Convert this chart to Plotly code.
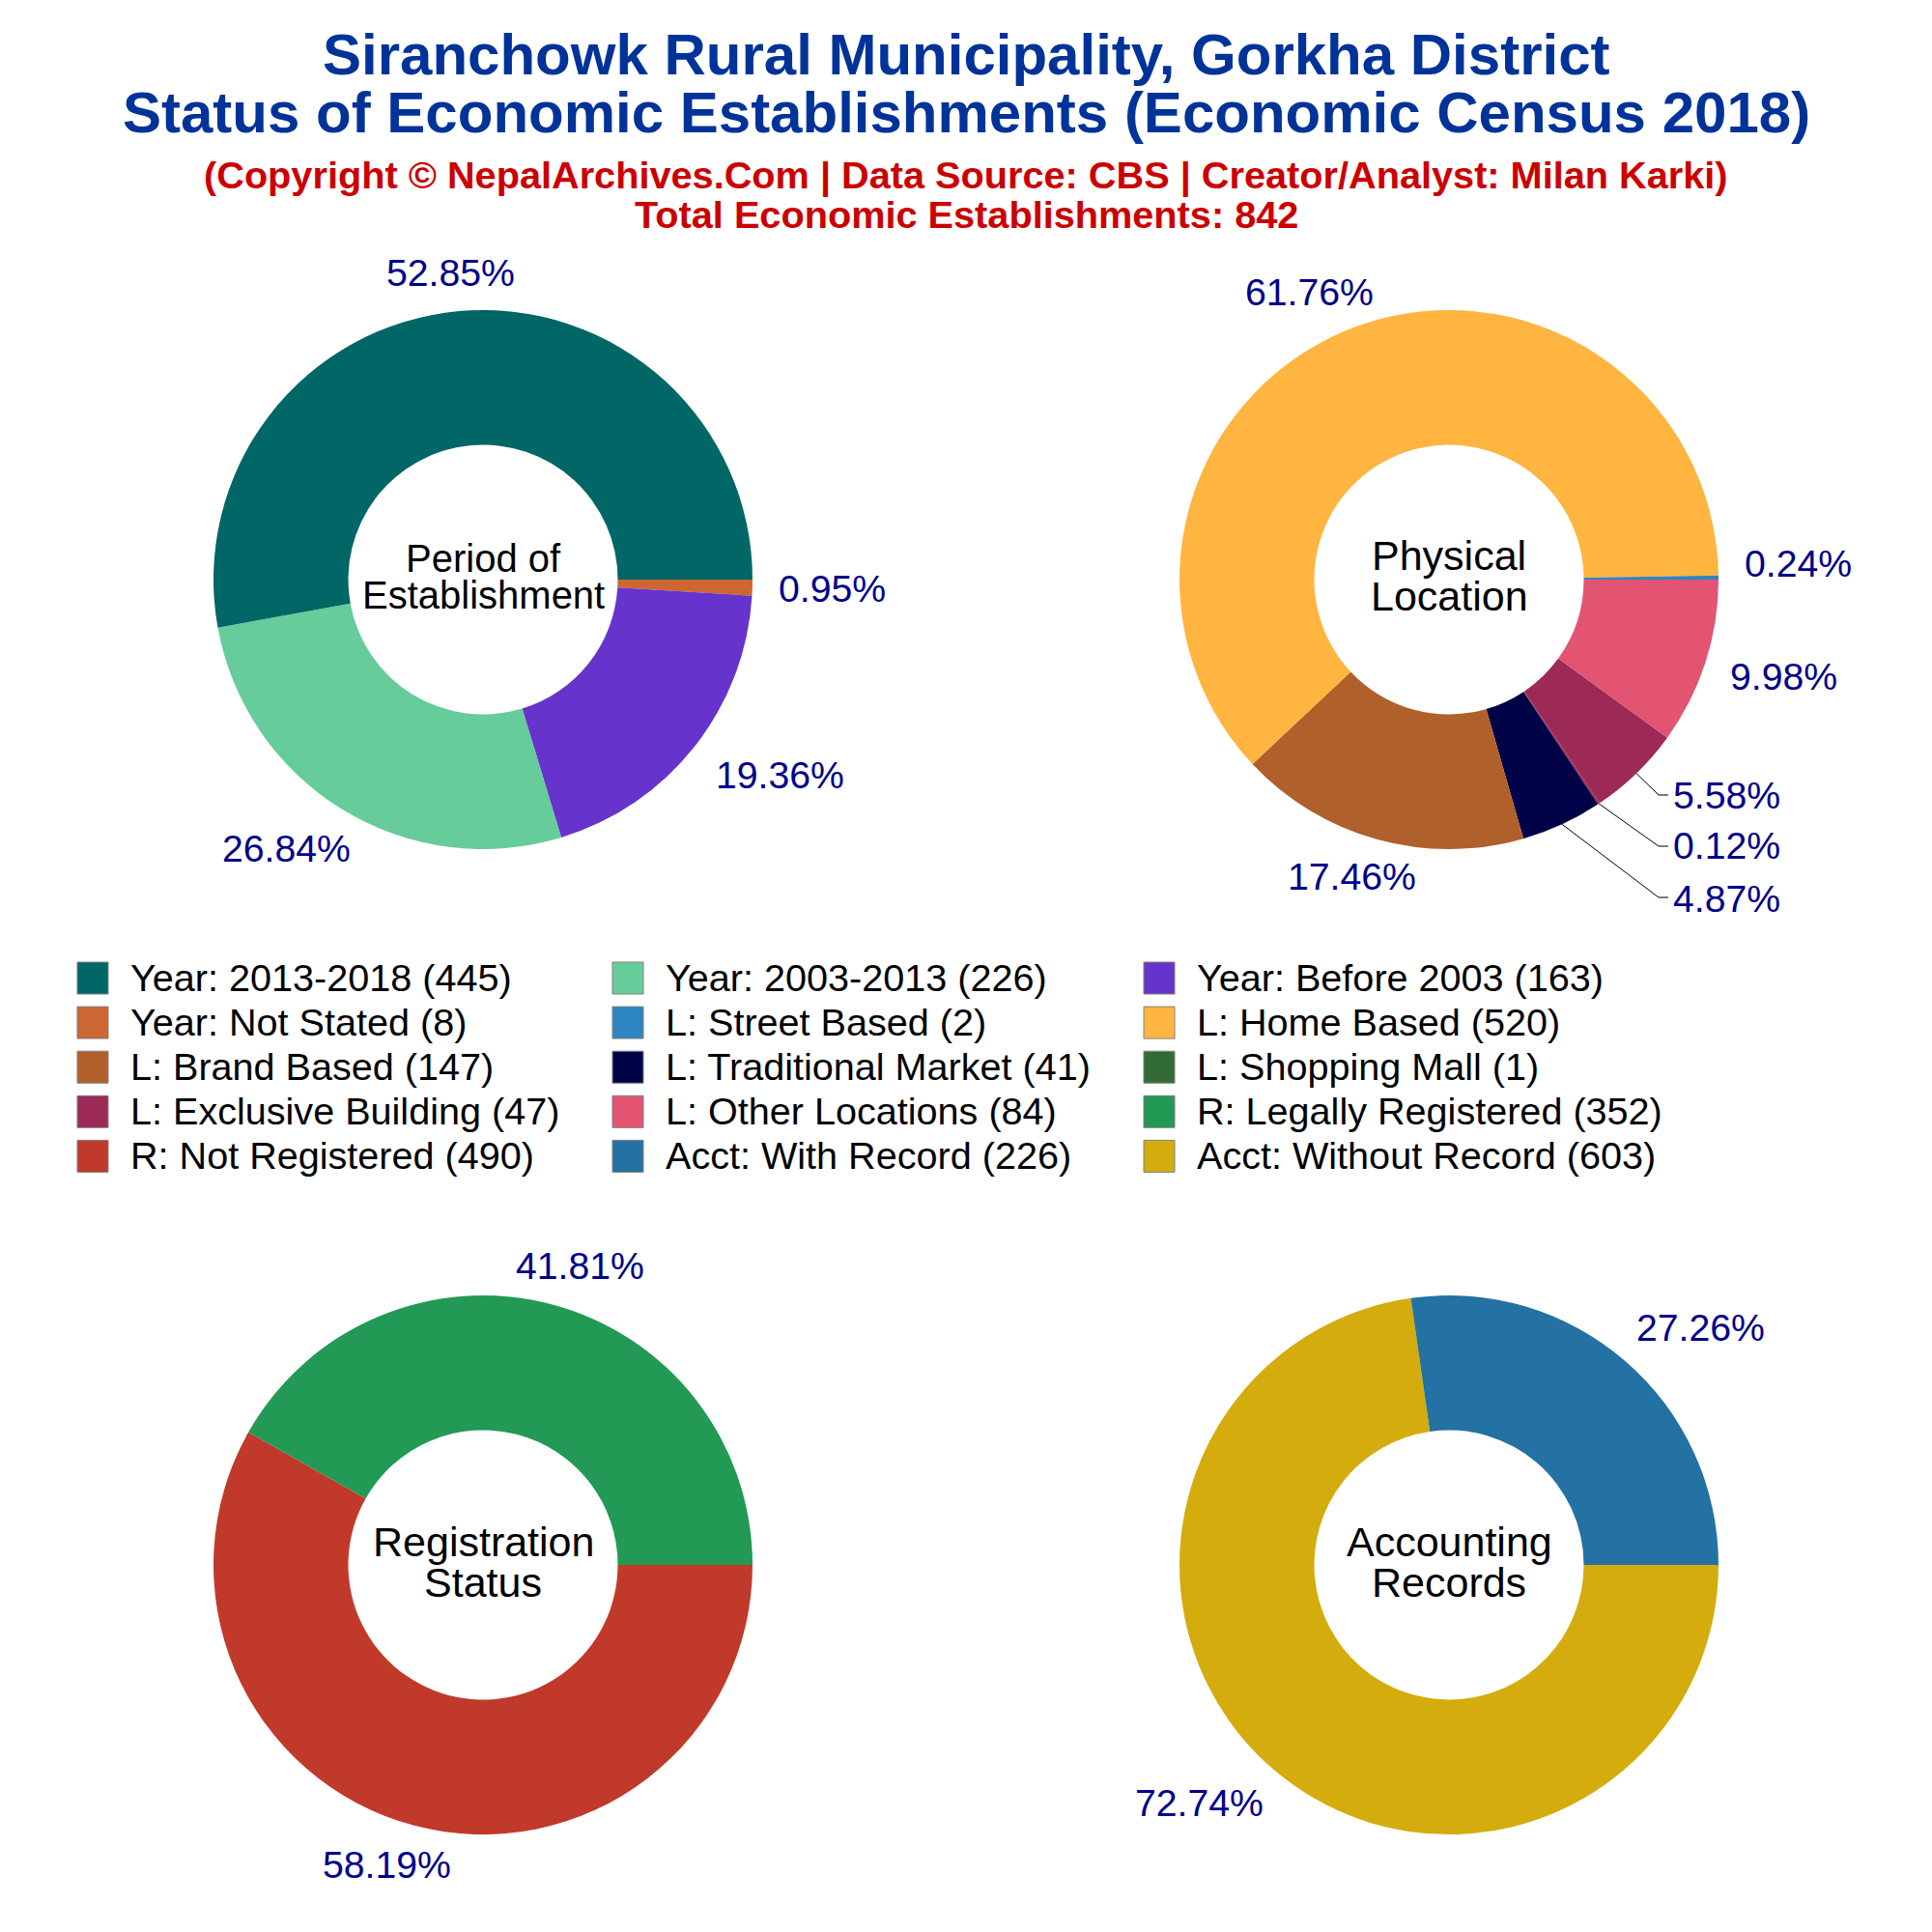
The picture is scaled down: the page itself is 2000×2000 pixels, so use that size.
"""Economic census donuts for Siranchowk, four pies and a shared key"""
from math import radians, sin, cos
from plotly.graph_objects import Figure, Pie

# data
year_labels = ["Year: 2013-2018", "Year: 2003-2013", "Year: Before 2003", "Year: Not Stated"]
year_values = [445, 226, 163, 8]
year_colors = ["#006666", "#66CC99", "#6633CC", "#CC6633"]

loc_labels = ["L: Street Based", "L: Home Based", "L: Brand Based", "L: Traditional Market",
              "L: Shopping Mall", "L: Exclusive Building", "L: Other Locations"]
loc_values = [2, 520, 147, 41, 1, 47, 84]
loc_colors = ["#2E86C1", "#FFB53F", "#B0602B", "#000248", "#336B37", "#9C2956", "#E35473"]
# the mall sliver does not show in the ring of the original, only in the key
loc_ring_colors = ["#2E86C1", "#FFB53F", "#B0602B", "#000248", "#9C2956", "#9C2956", "#E35473"]

reg_labels = ["R: Legally Registered", "R: Not Registered"]
reg_values = [352, 490]
reg_colors = ["#229954", "#C0392B"]

acct_labels = ["Acct: With Record", "Acct: Without Record"]
acct_values = [226, 603]
acct_colors = ["#2471A3", "#D4AC0D"]

# where the percentages sit, page pixels
year_pos = [(466, 282), (296, 878), (807, 802), (861, 610)]
loc_pos = [(1861, 583), (1355, 302), (1399, 908), (1787, 930), (1787, 876), (1787, 823), (1846, 700)]
reg_pos = [(600, 1310), (400, 1930)]
acct_pos = [(1760, 1374), (1241, 1866)]

FONT = "Liberation Sans, Arial, sans-serif"
SIZE = 2000
PAGE = 8  # the browser's body margin
RADIUS = 279


def note(text, x, y, size, color="black", bold=False, anchor="center"):
    """annotation placed in page pixels"""
    if bold:
        text = "<b>" + text + "</b>"
    return dict(text=text, x=(x - PAGE) / SIZE, y=1 - (y - PAGE) / SIZE, xref="paper", yref="paper",
                xanchor=anchor, yanchor="middle", showarrow=False,
                font=dict(family=FONT, size=size, color=color))


def donut(labels, values, colors, cx, cy):
    """one donut, the lists go in reversed so the first slice ends at 3 o'clock"""
    return Pie(labels=labels[::-1], values=values[::-1], hole=0.5, sort=False, direction="clockwise",
               rotation=90, marker=dict(colors=colors[::-1]), textinfo="none", showlegend=False,
               domain=dict(x=[(cx - PAGE - RADIUS) / SIZE, (cx - PAGE + RADIUS) / SIZE],
                           y=[1 - (cy - PAGE + RADIUS) / SIZE, 1 - (cy - PAGE - RADIUS) / SIZE]))


def percent_notes(values, positions):
    return [note(f"{v / sum(values):.2%}", p[0], p[1], 39.2, "#00008B") for v, p in zip(values, positions)]


fig = Figure()
fig.add_trace(donut(year_labels, year_values, year_colors, 500, 600))
fig.add_trace(donut(loc_labels, loc_values, loc_ring_colors, 1500, 600))
fig.add_trace(donut(reg_labels, reg_values, reg_colors, 500, 1620))
fig.add_trace(donut(acct_labels, acct_values, acct_colors, 1500, 1620))

notes = [
    note("Siranchowk Rural Municipality, Gorkha District", 1000, 56, 60, "#003399", True),
    note("Status of Economic Establishments (Economic Census 2018)", 1000, 116, 60, "#003399", True),
    note("(Copyright © NepalArchives.Com | Data Source: CBS | Creator/Analyst: Milan Karki)", 1000, 182, 39.7, "#CC0000", True),
    note("Total Economic Establishments: 842", 1000, 222, 39.7, "#CC0000", True),
    note("Period of", 500, 578, 40), note("Establishment", 500, 616, 40),
    note("Physical", 1500, 575, 43), note("Location", 1500, 617, 43),
    note("Registration", 500, 1596, 43), note("Status", 500, 1638, 43),
    note("Accounting", 1500, 1596, 43), note("Records", 1500, 1638, 43),
]
notes += percent_notes(year_values, year_pos)
notes += percent_notes(loc_values, loc_pos)
notes += percent_notes(reg_values, reg_pos)
notes += percent_notes(acct_values, acct_pos)

shapes = []

# leader lines for the three crowded labels of the location donut
for i, elbow_y in [(5, 823), (4, 876), (3, 929)]:
    before = sum(loc_values[i + 1:])
    angle = radians(90 + 360 * (before + loc_values[i] / 2) / sum(loc_values))
    x0 = 1500 + RADIUS * sin(angle) - PAGE
    y0 = 600 - RADIUS * cos(angle) - PAGE
    shapes.append(dict(type="path", xref="paper", yref="paper",
                       path=f"M {x0 / SIZE} {1 - y0 / SIZE} L {(1717 - PAGE) / SIZE} {1 - (elbow_y - PAGE) / SIZE}"
                            f" L {(1727 - PAGE) / SIZE} {1 - (elbow_y - PAGE) / SIZE}",
                       line=dict(color="black", width=1)))

# shared key, 3 columns filled row by row
key_labels = year_labels + loc_labels + reg_labels + acct_labels
key_values = year_values + loc_values + reg_values + acct_values
key_colors = year_colors + loc_colors + reg_colors + acct_colors
key_x = [80, 634, 1184]
for i, label in enumerate(key_labels):
    x0 = key_x[i % 3] - PAGE
    y0 = 988 + 46.1 * (i // 3)
    shapes.append(dict(type="rect", xref="paper", yref="paper",
                       x0=x0 / SIZE, x1=(x0 + 32) / SIZE, y0=1 - y0 / SIZE, y1=1 - (y0 + 33) / SIZE,
                       fillcolor=key_colors[i], line=dict(color="#808080", width=1)))
    notes.append(note(f"{label} ({key_values[i]})", x0 + PAGE + 53, y0 + PAGE + 16, 39.6, anchor="left"))

fig.update_layout(width=SIZE, height=SIZE, margin=dict(l=0, r=0, t=0, b=0),
                  paper_bgcolor="white", annotations=notes, shapes=shapes)
fig.write_html("out.html")
